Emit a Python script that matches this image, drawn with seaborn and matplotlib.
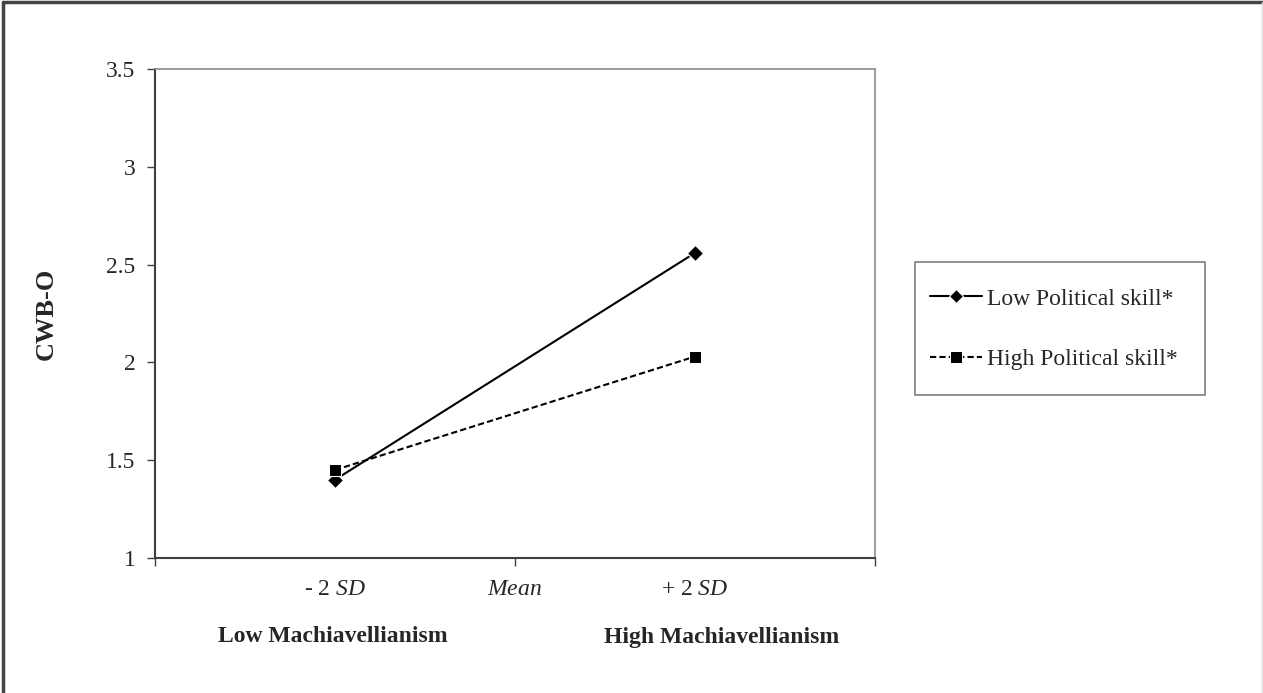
import numpy as np
import pandas as pd
import matplotlib
matplotlib.use("Agg")
import matplotlib.pyplot as plt
import seaborn as sns
from matplotlib.lines import Line2D
from matplotlib.patches import Rectangle

# ---------- data ----------
levels = ["- 2 SD", "+ 2 SD"]
low_ps = [1.40, 2.56]
high_ps = [1.45, 2.03]
series_names = ["Low Political skill*", "High Political skill*"]
y_ticks = [1, 1.5, 2, 2.5, 3, 3.5]

df = pd.DataFrame({
    "level": levels * 2,
    "CWB-O": low_ps + high_ps,
    "group": [series_names[0]] * 2 + [series_names[1]] * 2,
})

# ---------- style ----------
sns.set_style("white")
plt.rcParams["font.family"] = ["Liberation Serif", "DejaVu Serif"]
plt.rcParams["mathtext.fontset"] = "custom"
plt.rcParams["mathtext.rm"] = "Liberation Serif"
plt.rcParams["mathtext.it"] = "Liberation Serif:italic"

W, H = 1263, 693
fig = plt.figure(figsize=(W / 100, H / 100), dpi=100)
ax = fig.add_axes([155 / W, 1 - 558 / H, 720 / W, 489 / H])

sns.lineplot(data=df, x="level", y="CWB-O", hue="group", style="group",
             palette=["black", "black"], markers={series_names[0]: "D", series_names[1]: "s"},
             dashes={series_names[0]: "", series_names[1]: (3, 1.5)},
             markersize=8, linewidth=1.5, ax=ax, legend=True)
# square marker a bit bigger than the diamond
for line in ax.lines:
    if line.get_marker() == "s":
        line.set_markersize(9)

ax.set_xlim(-0.5, 1.5)
ax.set_ylim(1, 3.5)
ax.set_yticks(y_ticks)
ax.set_yticklabels([f"{t:g}" for t in y_ticks], fontsize=17)
ax.tick_params(axis="y", direction="out", length=6, width=1, color="#404040", left=True, pad=8)

ax.xaxis.remove_overlapping_locs = False
ax.set_xticks([-0.5, 0.5, 1.5])
ax.set_xticklabels([])
ax.tick_params(axis="x", which="major", direction="out", length=6, width=1, color="#404040", bottom=True)
ax.set_xticks([0, 0.5, 1], minor=True)
ax.set_xticklabels(["- 2 $\\mathit{SD}$", "$\\mathit{Mean}$", "+ 2 $\\mathit{SD}$"], minor=True, fontsize=17)
ax.tick_params(axis="x", which="minor", length=0, pad=15)

ax.set_xlabel("")
ax.set_ylabel("CWB-O", fontsize=19, fontweight="bold")
ax.yaxis.set_label_coords(-0.135, 0.5)

for side in ["left", "bottom"]:
    ax.spines[side].set_color("#404040")
    ax.spines[side].set_linewidth(1.5)
for side in ["top", "right"]:
    ax.spines[side].set_color("#8c8c8c")
    ax.spines[side].set_linewidth(1.2)

fig.text(333 / W, 1 - 637 / H, "Low Machiavellianism", fontsize=17, fontweight="bold",
         ha="center", va="center")
fig.text(722 / W, 1 - 637 / H, "High Machiavellianism", fontsize=17, fontweight="bold",
         ha="center", va="center")

handles, labels = ax.get_legend_handles_labels()
ax.legend_.remove()
leg = fig.legend(handles, labels, loc="center left", bbox_to_anchor=(930 / W, 1 - 329 / H),
                 fontsize=17, frameon=False,
                 handlelength=2.2, handletextpad=0.2, labelspacing=1.65,
                 borderpad=0, borderaxespad=0)
for h in leg.legend_handles:
    h.set_markersize(7 if h.get_marker() == "D" else 8)
# legend box
fig.add_artist(Rectangle((915 / W, 1 - 395 / H), 290 / W, 133 / H, transform=fig.transFigure,
                         fill=False, edgecolor="#7f7f7f", linewidth=1.2))

# picture border (left and top dark, right faint)
fig.add_artist(Line2D([0.002, 0.002], [0, 0.997], transform=fig.transFigure, color="#444444", linewidth=2.5))
fig.add_artist(Line2D([0.002, 1], [0.997, 0.997], transform=fig.transFigure, color="#444444", linewidth=2.5))
fig.add_artist(Line2D([0.9992, 0.9992], [0, 0.997], transform=fig.transFigure, color="#dddddd", linewidth=1))

plt.savefig("out.png", dpi=100)
